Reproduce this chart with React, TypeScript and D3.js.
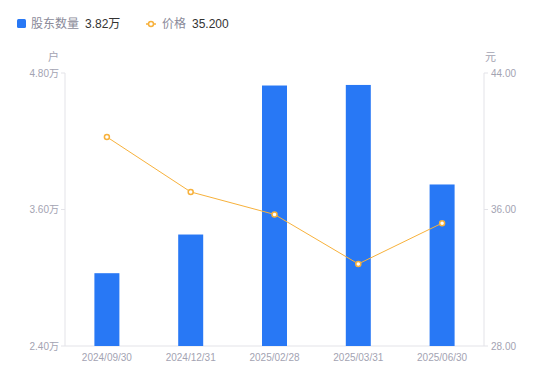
import React from 'react';
import * as d3 from 'd3';

const categories = ['2024/09/30', '2024/12/31', '2025/02/28', '2025/03/31', '2025/06/30'];
const holders = [3.04, 3.38, 4.69, 4.695, 3.82];
const prices = [40.25, 37.03, 35.71, 32.81, 35.2];
const leftTicks = [2.4, 3.6, 4.8];
const rightTicks = [28, 36, 44];

const W = 550, H = 381;
const L = 65, R = 484, T = 73, B = 346;
const BLUE = '#2878f5';
const ORANGE = '#f7b13b';
const AXIS = '#e3e3e8';
const LABEL = '#a3a3b2';
const FONT = '"Liberation Sans", Arial, "Noto Sans CJK SC", sans-serif';

export default function App() {
  const x = d3.scaleBand<string>().domain(categories).range([L, R]);
  const yL = d3.scaleLinear().domain([2.4, 4.8]).range([B, T]);
  const yR = d3.scaleLinear().domain([28, 44]).range([B, T]);
  const barW = 25;
  const cx = (c: string) => (x(c) as number) + x.bandwidth() / 2;
  const line = d3.line<number>().x((_, i) => cx(categories[i])).y((d) => yR(d));

  return (
    <svg width={W} height={H} style={{ position: 'absolute', left: 0, top: 0, fontFamily: FONT }}>
      <rect width={W} height={H} fill="#fff" />
      {/* legend */}
      <rect x={17} y={19} width={9} height={9} rx={1.5} fill={BLUE} />
      <text x={31} y={28} fontSize={12} fill="#8a8a99">股东数量</text>
      <text x={85} y={28} fontSize={12} fill="#333">3.82万</text>
      <line x1={146} x2={156} y1={24} y2={24} stroke={ORANGE} strokeWidth={1.5} />
      <circle cx={151} cy={24} r={2.5} fill="#fff" stroke={ORANGE} strokeWidth={1.5} />
      <text x={162} y={28} fontSize={12} fill="#8a8a99">价格</text>
      <text x={192} y={28} fontSize={12} fill="#333">35.200</text>

      {/* axis unit labels */}
      <text x={59} y={61} fontSize={11} fill={LABEL} textAnchor="end">户</text>
      <text x={485} y={61} fontSize={11} fill={LABEL}>元</text>

      {/* axes */}
      <line x1={L} x2={L} y1={T} y2={B} stroke={AXIS} />
      <line x1={R} x2={R} y1={T} y2={B} stroke={AXIS} />
      <line x1={L} x2={R} y1={B} y2={B} stroke={AXIS} />
      {leftTicks.map((t) => (
        <g key={'l' + t}>
          <line x1={L - 4} x2={L} y1={yL(t)} y2={yL(t)} stroke={AXIS} />
          <text x={L - 6} y={yL(t) + 3.5} fontSize={10} fill={LABEL} textAnchor="end">
            {t.toFixed(2) + '万'}
          </text>
        </g>
      ))}
      {rightTicks.map((t) => (
        <g key={'r' + t}>
          <line x1={R} x2={R + 4} y1={yR(t)} y2={yR(t)} stroke={AXIS} />
          <text x={R + 7} y={yR(t) + 3.5} fontSize={10} fill={LABEL}>
            {t.toFixed(2)}
          </text>
        </g>
      ))}
      {categories.map((c) => (
        <text key={c} x={cx(c)} y={361} fontSize={10} fill={LABEL} textAnchor="middle">
          {c}
        </text>
      ))}

      {/* bars */}
      {holders.map((v, i) => (
        <rect
          key={i}
          x={cx(categories[i]) - barW / 2}
          y={yL(v)}
          width={barW}
          height={B - yL(v)}
          fill={BLUE}
        />
      ))}

      {/* line */}
      <path d={line(prices) || ''} fill="none" stroke={ORANGE} strokeWidth={1} />
      {prices.map((v, i) => (
        <circle key={i} cx={cx(categories[i])} cy={yR(v)} r={2.5} fill="#fff" stroke={ORANGE} strokeWidth={1.5} />
      ))}
    </svg>
  );
}
